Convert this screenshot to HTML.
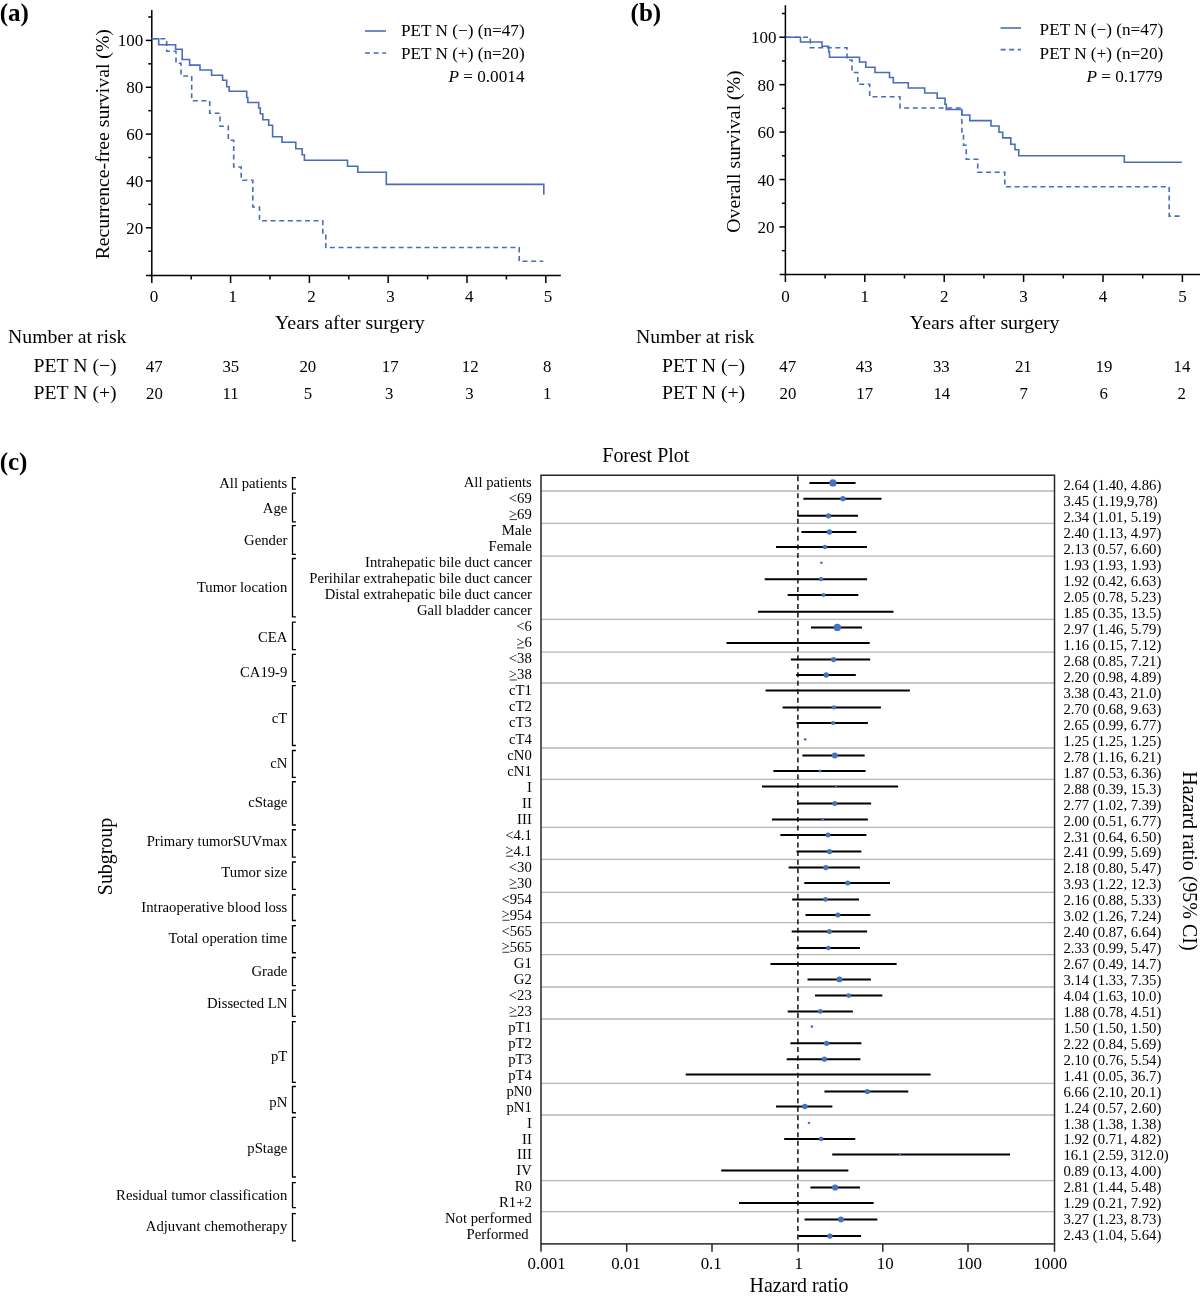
<!DOCTYPE html><html><head><meta charset="utf-8"><style>html,body{margin:0;padding:0;background:#fff;}svg{display:block;will-change:transform;}text{font-family:'Liberation Serif', serif;fill:#000;}</style></head><body>
<svg width="1200" height="1299" viewBox="0 0 1200 1299">
<rect width="1200" height="1299" fill="#fff"/>
<text x="0" y="0" font-size="25" font-weight="bold" transform="translate(-0.3,20.6)">(a)</text>
<text x="0" y="0" font-size="25" font-weight="bold" transform="translate(630.6,20.6)">(b)</text>
<text x="0" y="0" font-size="25" font-weight="bold" transform="translate(-0.3,469.6)">(c)</text>
<line x1="151.80" y1="10.00" x2="151.80" y2="276.25" stroke="#000" stroke-width="1.5"/>
<line x1="146.00" y1="275.50" x2="560.80" y2="275.50" stroke="#000" stroke-width="1.5"/>
<line x1="148.30" y1="251.22" x2="151.80" y2="251.22" stroke="#000" stroke-width="1.5"/>
<line x1="145.80" y1="227.80" x2="151.80" y2="227.80" stroke="#000" stroke-width="1.5"/>
<text x="143.20" y="233.80" font-size="17" text-anchor="end">20</text>
<line x1="148.30" y1="204.38" x2="151.80" y2="204.38" stroke="#000" stroke-width="1.5"/>
<line x1="145.80" y1="180.95" x2="151.80" y2="180.95" stroke="#000" stroke-width="1.5"/>
<text x="143.20" y="186.95" font-size="17" text-anchor="end">40</text>
<line x1="148.30" y1="157.52" x2="151.80" y2="157.52" stroke="#000" stroke-width="1.5"/>
<line x1="145.80" y1="134.10" x2="151.80" y2="134.10" stroke="#000" stroke-width="1.5"/>
<text x="143.20" y="140.10" font-size="17" text-anchor="end">60</text>
<line x1="148.30" y1="110.67" x2="151.80" y2="110.67" stroke="#000" stroke-width="1.5"/>
<line x1="145.80" y1="87.25" x2="151.80" y2="87.25" stroke="#000" stroke-width="1.5"/>
<text x="143.20" y="93.25" font-size="17" text-anchor="end">80</text>
<line x1="148.30" y1="63.82" x2="151.80" y2="63.82" stroke="#000" stroke-width="1.5"/>
<line x1="145.80" y1="40.40" x2="151.80" y2="40.40" stroke="#000" stroke-width="1.5"/>
<text x="143.20" y="46.40" font-size="17" text-anchor="end">100</text>
<line x1="148.30" y1="16.98" x2="151.80" y2="16.98" stroke="#000" stroke-width="1.5"/>
<line x1="151.80" y1="275.50" x2="151.80" y2="283.00" stroke="#000" stroke-width="1.5"/>
<text x="154.00" y="301.80" font-size="17" text-anchor="middle">0</text>
<line x1="191.20" y1="275.50" x2="191.20" y2="279.50" stroke="#000" stroke-width="1.5"/>
<line x1="230.60" y1="275.50" x2="230.60" y2="283.00" stroke="#000" stroke-width="1.5"/>
<text x="232.80" y="301.80" font-size="17" text-anchor="middle">1</text>
<line x1="270.00" y1="275.50" x2="270.00" y2="279.50" stroke="#000" stroke-width="1.5"/>
<line x1="309.40" y1="275.50" x2="309.40" y2="283.00" stroke="#000" stroke-width="1.5"/>
<text x="311.60" y="301.80" font-size="17" text-anchor="middle">2</text>
<line x1="348.80" y1="275.50" x2="348.80" y2="279.50" stroke="#000" stroke-width="1.5"/>
<line x1="388.20" y1="275.50" x2="388.20" y2="283.00" stroke="#000" stroke-width="1.5"/>
<text x="390.40" y="301.80" font-size="17" text-anchor="middle">3</text>
<line x1="427.60" y1="275.50" x2="427.60" y2="279.50" stroke="#000" stroke-width="1.5"/>
<line x1="467.00" y1="275.50" x2="467.00" y2="283.00" stroke="#000" stroke-width="1.5"/>
<text x="469.20" y="301.80" font-size="17" text-anchor="middle">4</text>
<line x1="506.40" y1="275.50" x2="506.40" y2="279.50" stroke="#000" stroke-width="1.5"/>
<line x1="545.80" y1="275.50" x2="545.80" y2="283.00" stroke="#000" stroke-width="1.5"/>
<text x="548.00" y="301.80" font-size="17" text-anchor="middle">5</text>
<path d="M151.7,38.7 H158.7 V44.7 H175.6 V49.2 H182.2 V59.5 H189.6 V65.1 H200 V70 H211.6 V75.3 H222.6 V80.3 H226.7 V86.7 H229.2 V91.3 H246.7 V97.5 H247.8 V102.5 H258.7 V108 H260.3 V113.8 H262.8 V119.7 H268.7 V125.3 H272.6 V136.7 H282 V142.3 H295.8 V148.7 H302.1 V154.7 H304.4 V160.3 H347.5 V166.3 H357.8 V172.2 H386.3 V184.4 H543.8 V194.7 H543.8" fill="none" stroke="#4a6cbc" stroke-width="1.6"/>
<path d="M151.7,38.7 H166.7 V51.3 H176 V63.3 H181 V76 H191.7 V100.8 H209.7 V113.3 H220 V126.3 H228.3 V140.3 H233.7 V167 H241.2 V180.3 H252.8 V207 H259.5 V220.8 H322.8 V234.2 H325.8 V247.5 H519.2 V261.3 H543.3" fill="none" stroke="#4a6cbc" stroke-width="1.6" stroke-dasharray="5 3.6"/>
<text x="0" y="0" font-size="19.75" text-anchor="middle" transform="translate(109.4,144.2) rotate(-90)">Recurrence-free survival (%)</text>
<text x="349.85" y="329.00" font-size="19.85" text-anchor="middle">Years after surgery</text>
<line x1="365.00" y1="31.00" x2="386.00" y2="31.00" stroke="#4a6cbc" stroke-width="1.6"/>
<line x1="365.00" y1="53.00" x2="386.00" y2="53.00" stroke="#4a6cbc" stroke-width="1.6" stroke-dasharray="5 3.6"/>
<text x="401.00" y="35.80" font-size="17.2" text-anchor="start">PET N (−) (n=47)</text>
<text x="401.00" y="59.00" font-size="17.2" text-anchor="start">PET N (+) (n=20)</text>
<text x="524.5" y="81.6" font-size="17.2" text-anchor="end"><tspan font-style="italic">P</tspan> = 0.0014</text>
<text x="8.00" y="343.00" font-size="19.75" text-anchor="start">Number at risk</text>
<text x="33.50" y="372.00" font-size="19.75" text-anchor="start">PET N (−)</text>
<text x="33.50" y="399.00" font-size="19.75" text-anchor="start">PET N (+)</text>
<text x="154.20" y="372.00" font-size="16.8" text-anchor="middle">47</text>
<text x="154.50" y="399.00" font-size="16.8" text-anchor="middle">20</text>
<text x="230.80" y="372.00" font-size="16.8" text-anchor="middle">35</text>
<text x="230.60" y="399.00" font-size="16.8" text-anchor="middle">11</text>
<text x="307.80" y="372.00" font-size="16.8" text-anchor="middle">20</text>
<text x="308.00" y="399.00" font-size="16.8" text-anchor="middle">5</text>
<text x="390.20" y="372.00" font-size="16.8" text-anchor="middle">17</text>
<text x="389.30" y="399.00" font-size="16.8" text-anchor="middle">3</text>
<text x="470.20" y="372.00" font-size="16.8" text-anchor="middle">12</text>
<text x="469.50" y="399.00" font-size="16.8" text-anchor="middle">3</text>
<text x="547.30" y="372.00" font-size="16.8" text-anchor="middle">8</text>
<text x="547.20" y="399.00" font-size="16.8" text-anchor="middle">1</text>
<line x1="785.40" y1="5.20" x2="785.40" y2="275.25" stroke="#000" stroke-width="1.5"/>
<line x1="779.70" y1="274.50" x2="1200.00" y2="274.50" stroke="#000" stroke-width="1.5"/>
<line x1="781.90" y1="250.66" x2="785.40" y2="250.66" stroke="#000" stroke-width="1.5"/>
<line x1="779.40" y1="226.94" x2="785.40" y2="226.94" stroke="#000" stroke-width="1.5"/>
<text x="774.60" y="232.94" font-size="17" text-anchor="end">20</text>
<line x1="781.90" y1="203.22" x2="785.40" y2="203.22" stroke="#000" stroke-width="1.5"/>
<line x1="779.40" y1="179.51" x2="785.40" y2="179.51" stroke="#000" stroke-width="1.5"/>
<text x="774.60" y="185.51" font-size="17" text-anchor="end">40</text>
<line x1="781.90" y1="155.80" x2="785.40" y2="155.80" stroke="#000" stroke-width="1.5"/>
<line x1="779.40" y1="132.08" x2="785.40" y2="132.08" stroke="#000" stroke-width="1.5"/>
<text x="774.60" y="138.08" font-size="17" text-anchor="end">60</text>
<line x1="781.90" y1="108.36" x2="785.40" y2="108.36" stroke="#000" stroke-width="1.5"/>
<line x1="779.40" y1="84.65" x2="785.40" y2="84.65" stroke="#000" stroke-width="1.5"/>
<text x="774.60" y="90.65" font-size="17" text-anchor="end">80</text>
<line x1="781.90" y1="60.94" x2="785.40" y2="60.94" stroke="#000" stroke-width="1.5"/>
<line x1="779.40" y1="37.22" x2="785.40" y2="37.22" stroke="#000" stroke-width="1.5"/>
<text x="776.60" y="43.22" font-size="17" text-anchor="end">100</text>
<line x1="781.90" y1="13.50" x2="785.40" y2="13.50" stroke="#000" stroke-width="1.5"/>
<line x1="785.40" y1="274.50" x2="785.40" y2="282.00" stroke="#000" stroke-width="1.5"/>
<text x="785.40" y="301.80" font-size="17" text-anchor="middle">0</text>
<line x1="825.10" y1="274.50" x2="825.10" y2="278.50" stroke="#000" stroke-width="1.5"/>
<line x1="864.80" y1="274.50" x2="864.80" y2="282.00" stroke="#000" stroke-width="1.5"/>
<text x="864.80" y="301.80" font-size="17" text-anchor="middle">1</text>
<line x1="904.50" y1="274.50" x2="904.50" y2="278.50" stroke="#000" stroke-width="1.5"/>
<line x1="944.20" y1="274.50" x2="944.20" y2="282.00" stroke="#000" stroke-width="1.5"/>
<text x="944.20" y="301.80" font-size="17" text-anchor="middle">2</text>
<line x1="983.90" y1="274.50" x2="983.90" y2="278.50" stroke="#000" stroke-width="1.5"/>
<line x1="1023.60" y1="274.50" x2="1023.60" y2="282.00" stroke="#000" stroke-width="1.5"/>
<text x="1023.60" y="301.80" font-size="17" text-anchor="middle">3</text>
<line x1="1063.30" y1="274.50" x2="1063.30" y2="278.50" stroke="#000" stroke-width="1.5"/>
<line x1="1103.00" y1="274.50" x2="1103.00" y2="282.00" stroke="#000" stroke-width="1.5"/>
<text x="1103.00" y="301.80" font-size="17" text-anchor="middle">4</text>
<line x1="1142.70" y1="274.50" x2="1142.70" y2="278.50" stroke="#000" stroke-width="1.5"/>
<line x1="1182.40" y1="274.50" x2="1182.40" y2="282.00" stroke="#000" stroke-width="1.5"/>
<text x="1182.40" y="301.80" font-size="17" text-anchor="middle">5</text>
<path d="M785.8,37.2 H800.5 V42 H822 V46.3 H828.7 V51.7 H829.5 V57.2 H859.5 V62 H865.8 V67.2 H875 V72.5 H889.5 V77.5 H893.3 V82.8 H908.3 V88 H924.7 V93 H937.2 V98.3 H945 V104.2 H946.3 V109.5 H961.9 V115 H969.8 V120.6 H991 V126 H999 V132.3 H1002.7 V137.9 H1010.8 V144.2 H1015 V149.8 H1018.75 V155.8 H1124.3 V162.3 H1181.9" fill="none" stroke="#4a6cbc" stroke-width="1.6"/>
<path d="M785.8,37.2 H810.3 V47.8 H847 V60 H852 V72.5 H857.8 V84.2 H869.7 V96.7 H900 V108 H961.9 V132.7 H963.5 V145.2 H966.25 V159.2 H977.7 V172.3 H1004.8 V186.8 H1169.2 V216.1 H1181.7" fill="none" stroke="#4a6cbc" stroke-width="1.6" stroke-dasharray="5 3.6"/>
<text x="0" y="0" font-size="19.75" text-anchor="middle" transform="translate(740.4,151.5) rotate(-90)">Overall survival (%)</text>
<text x="984.70" y="328.80" font-size="19.85" text-anchor="middle">Years after surgery</text>
<line x1="1000.60" y1="28.00" x2="1021.00" y2="28.00" stroke="#4a6cbc" stroke-width="1.6"/>
<line x1="1000.60" y1="49.60" x2="1021.00" y2="49.60" stroke="#4a6cbc" stroke-width="1.6" stroke-dasharray="5 3.6"/>
<text x="1039.60" y="35.20" font-size="17.2" text-anchor="start">PET N (−) (n=47)</text>
<text x="1039.60" y="58.80" font-size="17.2" text-anchor="start">PET N (+) (n=20)</text>
<text x="1162.5" y="81.6" font-size="17.2" text-anchor="end"><tspan font-style="italic">P</tspan> = 0.1779</text>
<text x="636.00" y="342.70" font-size="19.75" text-anchor="start">Number at risk</text>
<text x="662.00" y="372.00" font-size="19.75" text-anchor="start">PET N (−)</text>
<text x="662.00" y="399.20" font-size="19.75" text-anchor="start">PET N (+)</text>
<text x="787.70" y="372.00" font-size="16.8" text-anchor="middle">47</text>
<text x="787.90" y="399.20" font-size="16.8" text-anchor="middle">20</text>
<text x="864.20" y="372.00" font-size="16.8" text-anchor="middle">43</text>
<text x="864.70" y="399.20" font-size="16.8" text-anchor="middle">17</text>
<text x="941.30" y="372.00" font-size="16.8" text-anchor="middle">33</text>
<text x="941.80" y="399.20" font-size="16.8" text-anchor="middle">14</text>
<text x="1023.30" y="372.00" font-size="16.8" text-anchor="middle">21</text>
<text x="1023.60" y="399.20" font-size="16.8" text-anchor="middle">7</text>
<text x="1104.00" y="372.00" font-size="16.8" text-anchor="middle">19</text>
<text x="1103.70" y="399.20" font-size="16.8" text-anchor="middle">6</text>
<text x="1182.00" y="372.00" font-size="16.8" text-anchor="middle">14</text>
<text x="1181.80" y="399.20" font-size="16.8" text-anchor="middle">2</text>
<line x1="541.00" y1="491.00" x2="1054.50" y2="491.00" stroke="#b6b6b6" stroke-width="1.3"/>
<line x1="541.00" y1="523.40" x2="1054.50" y2="523.40" stroke="#b6b6b6" stroke-width="1.3"/>
<line x1="541.00" y1="556.20" x2="1054.50" y2="556.20" stroke="#b6b6b6" stroke-width="1.3"/>
<line x1="541.00" y1="619.40" x2="1054.50" y2="619.40" stroke="#b6b6b6" stroke-width="1.3"/>
<line x1="541.00" y1="652.20" x2="1054.50" y2="652.20" stroke="#b6b6b6" stroke-width="1.3"/>
<line x1="541.00" y1="683.00" x2="1054.50" y2="683.00" stroke="#b6b6b6" stroke-width="1.3"/>
<line x1="541.00" y1="748.00" x2="1054.50" y2="748.00" stroke="#b6b6b6" stroke-width="1.3"/>
<line x1="541.00" y1="779.40" x2="1054.50" y2="779.40" stroke="#b6b6b6" stroke-width="1.3"/>
<line x1="541.00" y1="827.40" x2="1054.50" y2="827.40" stroke="#b6b6b6" stroke-width="1.3"/>
<line x1="541.00" y1="859.40" x2="1054.50" y2="859.40" stroke="#b6b6b6" stroke-width="1.3"/>
<line x1="541.00" y1="892.40" x2="1054.50" y2="892.40" stroke="#b6b6b6" stroke-width="1.3"/>
<line x1="541.00" y1="922.60" x2="1054.50" y2="922.60" stroke="#b6b6b6" stroke-width="1.3"/>
<line x1="541.00" y1="954.60" x2="1054.50" y2="954.60" stroke="#b6b6b6" stroke-width="1.3"/>
<line x1="541.00" y1="987.00" x2="1054.50" y2="987.00" stroke="#b6b6b6" stroke-width="1.3"/>
<line x1="541.00" y1="1019.00" x2="1054.50" y2="1019.00" stroke="#b6b6b6" stroke-width="1.3"/>
<line x1="541.00" y1="1083.30" x2="1054.50" y2="1083.30" stroke="#b6b6b6" stroke-width="1.3"/>
<line x1="541.00" y1="1115.00" x2="1054.50" y2="1115.00" stroke="#b6b6b6" stroke-width="1.3"/>
<line x1="541.00" y1="1180.65" x2="1054.50" y2="1180.65" stroke="#b6b6b6" stroke-width="1.3"/>
<line x1="541.00" y1="1211.70" x2="1054.50" y2="1211.70" stroke="#b6b6b6" stroke-width="1.3"/>
<line x1="797.90" y1="475.25" x2="797.90" y2="1243.90" stroke="#111" stroke-width="1.5" stroke-dasharray="5 3.52" stroke-dashoffset="7.54"/>
<rect x="541.0" y="475.25" width="513.5" height="768.6500000000001" fill="none" stroke="#262626" stroke-width="1.5"/>
<text x="0" y="0" font-size="14.7" text-anchor="end" transform="translate(531.80,486.90) scale(1,1.06)">All patients</text>
<text x="0" y="0" font-size="14.7" text-anchor="start" transform="translate(1063.50,489.70) scale(1,1.06)">2.64 (1.40, 4.86)</text>
<line x1="809.39" y1="482.90" x2="855.57" y2="482.90" stroke="#000" stroke-width="2"/>
<circle cx="832.9" cy="482.9" r="3.6" fill="#4472c4"/>
<text x="0" y="0" font-size="14.7" text-anchor="end" transform="translate(531.80,502.94) scale(1,1.06)">&lt;69</text>
<text x="0" y="0" font-size="14.7" text-anchor="start" transform="translate(1063.50,505.70) scale(1,1.06)">3.45 (1.19,9,78)</text>
<line x1="803.36" y1="498.70" x2="881.52" y2="498.70" stroke="#000" stroke-width="2"/>
<circle cx="842.9" cy="498.7" r="2.6" fill="#4472c4"/>
<text x="0" y="0" font-size="14.7" text-anchor="end" transform="translate(531.80,518.99) scale(1,1.06)"><tspan dy="-0.3">&gt;</tspan><tspan dy="0.3">69</tspan></text>
<line x1="509.71" y1="519.59" x2="516.91" y2="519.59" stroke="#333" stroke-width="1.0"/>
<text x="0" y="0" font-size="14.7" text-anchor="start" transform="translate(1063.50,521.71) scale(1,1.06)">2.34 (1.01, 5.19)</text>
<line x1="797.27" y1="515.80" x2="858.01" y2="515.80" stroke="#000" stroke-width="2"/>
<circle cx="828.4" cy="515.8" r="2.6" fill="#4472c4"/>
<text x="0" y="0" font-size="14.7" text-anchor="end" transform="translate(531.80,535.03) scale(1,1.06)">Male</text>
<text x="0" y="0" font-size="14.7" text-anchor="start" transform="translate(1063.50,537.71) scale(1,1.06)">2.40 (1.13, 4.97)</text>
<line x1="801.44" y1="532.00" x2="856.40" y2="532.00" stroke="#000" stroke-width="2"/>
<circle cx="829.4" cy="532" r="2.7" fill="#4472c4"/>
<text x="0" y="0" font-size="14.7" text-anchor="end" transform="translate(531.80,551.07) scale(1,1.06)">Female</text>
<text x="0" y="0" font-size="14.7" text-anchor="start" transform="translate(1063.50,553.71) scale(1,1.06)">2.13 (0.57, 6.60)</text>
<line x1="776.04" y1="547.00" x2="866.93" y2="547.00" stroke="#000" stroke-width="2"/>
<circle cx="825.0" cy="547" r="2.2" fill="#4472c4"/>
<text x="0" y="0" font-size="14.7" text-anchor="end" transform="translate(531.80,567.11) scale(1,1.06)">Intrahepatic bile duct cancer</text>
<text x="0" y="0" font-size="14.7" text-anchor="start" transform="translate(1063.50,569.72) scale(1,1.06)">1.93 (1.93, 1.93)</text>
<circle cx="821.3" cy="562.7" r="1.3" fill="#4472c4"/>
<text x="0" y="0" font-size="14.7" text-anchor="end" transform="translate(531.80,583.16) scale(1,1.06)">Perihilar extrahepatic bile duct cancer</text>
<text x="0" y="0" font-size="14.7" text-anchor="start" transform="translate(1063.50,585.72) scale(1,1.06)">1.92 (0.42, 6.63)</text>
<line x1="764.71" y1="579.20" x2="867.10" y2="579.20" stroke="#000" stroke-width="2"/>
<circle cx="821.1" cy="579.2" r="2.1" fill="#4472c4"/>
<text x="0" y="0" font-size="14.7" text-anchor="end" transform="translate(531.80,599.20) scale(1,1.06)">Distal extrahepatic bile duct cancer</text>
<text x="0" y="0" font-size="14.7" text-anchor="start" transform="translate(1063.50,601.72) scale(1,1.06)">2.05 (0.78, 5.23)</text>
<line x1="787.68" y1="595.00" x2="858.30" y2="595.00" stroke="#000" stroke-width="2"/>
<circle cx="823.5" cy="595" r="2.1" fill="#4472c4"/>
<text x="0" y="0" font-size="14.7" text-anchor="end" transform="translate(531.80,615.23) scale(1,1.06)">Gall bladder cancer</text>
<text x="0" y="0" font-size="14.7" text-anchor="start" transform="translate(1063.50,617.72) scale(1,1.06)">1.85 (0.35, 13.5)</text>
<line x1="757.94" y1="611.80" x2="893.49" y2="611.80" stroke="#000" stroke-width="2"/>
<text x="0" y="0" font-size="14.7" text-anchor="end" transform="translate(531.80,631.27) scale(1,1.06)">&lt;6</text>
<text x="0" y="0" font-size="14.7" text-anchor="start" transform="translate(1063.50,633.72) scale(1,1.06)">2.97 (1.46, 5.79)</text>
<line x1="810.94" y1="627.40" x2="862.07" y2="627.40" stroke="#000" stroke-width="2"/>
<circle cx="837.3" cy="627.4" r="3.7" fill="#4472c4"/>
<text x="0" y="0" font-size="14.7" text-anchor="end" transform="translate(531.80,647.31) scale(1,1.06)"><tspan dy="-0.3">&gt;</tspan><tspan dy="0.3">6</tspan></text>
<line x1="517.06" y1="647.91" x2="524.26" y2="647.91" stroke="#333" stroke-width="1.0"/>
<text x="0" y="0" font-size="14.7" text-anchor="start" transform="translate(1063.50,649.71) scale(1,1.06)">1.16 (0.15, 7.12)</text>
<line x1="726.50" y1="643.00" x2="869.74" y2="643.00" stroke="#000" stroke-width="2"/>
<text x="0" y="0" font-size="14.7" text-anchor="end" transform="translate(531.80,663.35) scale(1,1.06)">&lt;38</text>
<text x="0" y="0" font-size="14.7" text-anchor="start" transform="translate(1063.50,665.71) scale(1,1.06)">2.68 (0.85, 7.21)</text>
<line x1="790.87" y1="659.60" x2="870.21" y2="659.60" stroke="#000" stroke-width="2"/>
<circle cx="833.5" cy="659.6" r="2.6" fill="#4472c4"/>
<text x="0" y="0" font-size="14.7" text-anchor="end" transform="translate(531.80,679.38) scale(1,1.06)"><tspan dy="-0.3">&gt;</tspan><tspan dy="0.3">38</tspan></text>
<line x1="509.71" y1="679.98" x2="516.91" y2="679.98" stroke="#333" stroke-width="1.0"/>
<text x="0" y="0" font-size="14.7" text-anchor="start" transform="translate(1063.50,681.70) scale(1,1.06)">2.20 (0.98, 4.89)</text>
<line x1="796.15" y1="675.00" x2="855.80" y2="675.00" stroke="#000" stroke-width="2"/>
<circle cx="826.2" cy="675" r="2.7" fill="#4472c4"/>
<text x="0" y="0" font-size="14.7" text-anchor="end" transform="translate(531.80,695.41) scale(1,1.06)">cT1</text>
<text x="0" y="0" font-size="14.7" text-anchor="start" transform="translate(1063.50,697.69) scale(1,1.06)">3.38 (0.43, 21.0)</text>
<line x1="765.58" y1="690.60" x2="909.88" y2="690.60" stroke="#000" stroke-width="2"/>
<text x="0" y="0" font-size="14.7" text-anchor="end" transform="translate(531.80,711.44) scale(1,1.06)">cT2</text>
<text x="0" y="0" font-size="14.7" text-anchor="start" transform="translate(1063.50,713.68) scale(1,1.06)">2.70 (0.68, 9.63)</text>
<line x1="782.59" y1="707.40" x2="880.95" y2="707.40" stroke="#000" stroke-width="2"/>
<circle cx="833.8" cy="707.4" r="2.1" fill="#4472c4"/>
<text x="0" y="0" font-size="14.7" text-anchor="end" transform="translate(531.80,727.47) scale(1,1.06)">cT3</text>
<text x="0" y="0" font-size="14.7" text-anchor="start" transform="translate(1063.50,729.67) scale(1,1.06)">2.65 (0.99, 6.77)</text>
<line x1="796.53" y1="723.00" x2="867.87" y2="723.00" stroke="#000" stroke-width="2"/>
<circle cx="833.1" cy="723" r="2.1" fill="#4472c4"/>
<text x="0" y="0" font-size="14.7" text-anchor="end" transform="translate(531.80,743.50) scale(1,1.06)">cT4</text>
<text x="0" y="0" font-size="14.7" text-anchor="start" transform="translate(1063.50,745.65) scale(1,1.06)">1.25 (1.25, 1.25)</text>
<circle cx="805.2" cy="739.4" r="1.3" fill="#4472c4"/>
<text x="0" y="0" font-size="14.7" text-anchor="end" transform="translate(531.80,759.52) scale(1,1.06)">cN0</text>
<text x="0" y="0" font-size="14.7" text-anchor="start" transform="translate(1063.50,761.63) scale(1,1.06)">2.78 (1.16, 6.21)</text>
<line x1="802.41" y1="755.40" x2="864.67" y2="755.40" stroke="#000" stroke-width="2"/>
<circle cx="834.8" cy="755.4" r="3.0" fill="#4472c4"/>
<text x="0" y="0" font-size="14.7" text-anchor="end" transform="translate(531.80,775.55) scale(1,1.06)">cN1</text>
<text x="0" y="0" font-size="14.7" text-anchor="start" transform="translate(1063.50,777.61) scale(1,1.06)">1.87 (0.53, 6.36)</text>
<line x1="773.34" y1="771.00" x2="865.56" y2="771.00" stroke="#000" stroke-width="2"/>
<circle cx="820.1" cy="771" r="1.5999999999999999" fill="#4472c4"/>
<text x="0" y="0" font-size="14.7" text-anchor="end" transform="translate(531.80,791.57) scale(1,1.06)">I</text>
<text x="0" y="0" font-size="14.7" text-anchor="start" transform="translate(1063.50,793.59) scale(1,1.06)">2.88 (0.39, 15.3)</text>
<line x1="761.96" y1="786.60" x2="898.13" y2="786.60" stroke="#000" stroke-width="2"/>
<circle cx="836.2" cy="786.6" r="1.2" fill="#4472c4"/>
<text x="0" y="0" font-size="14.7" text-anchor="end" transform="translate(531.80,807.59) scale(1,1.06)">II</text>
<text x="0" y="0" font-size="14.7" text-anchor="start" transform="translate(1063.50,809.56) scale(1,1.06)">2.77 (1.02, 7.39)</text>
<line x1="797.63" y1="803.60" x2="871.13" y2="803.60" stroke="#000" stroke-width="2"/>
<circle cx="834.7" cy="803.6" r="2.5" fill="#4472c4"/>
<text x="0" y="0" font-size="14.7" text-anchor="end" transform="translate(531.80,823.60) scale(1,1.06)">III</text>
<text x="0" y="0" font-size="14.7" text-anchor="start" transform="translate(1063.50,825.54) scale(1,1.06)">2.00 (0.51, 6.77)</text>
<line x1="771.91" y1="819.40" x2="867.87" y2="819.40" stroke="#000" stroke-width="2"/>
<circle cx="822.6" cy="819.4" r="1.4" fill="#4472c4"/>
<text x="0" y="0" font-size="14.7" text-anchor="end" transform="translate(531.80,839.62) scale(1,1.06)">&lt;4.1</text>
<text x="0" y="0" font-size="14.7" text-anchor="start" transform="translate(1063.50,841.50) scale(1,1.06)">2.31 (0.64, 6.50)</text>
<line x1="780.34" y1="835.00" x2="866.36" y2="835.00" stroke="#000" stroke-width="2"/>
<circle cx="828.0" cy="835" r="2.5" fill="#4472c4"/>
<text x="0" y="0" font-size="14.7" text-anchor="end" transform="translate(531.80,855.63) scale(1,1.06)"><tspan dy="-0.3">&gt;</tspan><tspan dy="0.3">4.1</tspan></text>
<line x1="506.03" y1="856.23" x2="513.23" y2="856.23" stroke="#333" stroke-width="1.0"/>
<text x="0" y="0" font-size="14.7" text-anchor="start" transform="translate(1063.50,857.47) scale(1,1.06)">2.41 (0.99, 5.69)</text>
<line x1="796.53" y1="851.60" x2="861.42" y2="851.60" stroke="#000" stroke-width="2"/>
<circle cx="829.5" cy="851.6" r="2.7" fill="#4472c4"/>
<text x="0" y="0" font-size="14.7" text-anchor="end" transform="translate(531.80,871.64) scale(1,1.06)">&lt;30</text>
<text x="0" y="0" font-size="14.7" text-anchor="start" transform="translate(1063.50,873.44) scale(1,1.06)">2.18 (0.80, 5.47)</text>
<line x1="788.62" y1="867.60" x2="859.96" y2="867.60" stroke="#000" stroke-width="2"/>
<circle cx="825.8" cy="867.6" r="2.6" fill="#4472c4"/>
<text x="0" y="0" font-size="14.7" text-anchor="end" transform="translate(531.80,887.65) scale(1,1.06)"><tspan dy="-0.3">&gt;</tspan><tspan dy="0.3">30</tspan></text>
<line x1="509.71" y1="888.25" x2="516.91" y2="888.25" stroke="#333" stroke-width="1.0"/>
<text x="0" y="0" font-size="14.7" text-anchor="start" transform="translate(1063.50,889.40) scale(1,1.06)">3.93 (1.22, 12.3)</text>
<line x1="804.28" y1="883.00" x2="890.03" y2="883.00" stroke="#000" stroke-width="2"/>
<circle cx="847.7" cy="883" r="2.5" fill="#4472c4"/>
<text x="0" y="0" font-size="14.7" text-anchor="end" transform="translate(531.80,903.65) scale(1,1.06)">&lt;954</text>
<text x="0" y="0" font-size="14.7" text-anchor="start" transform="translate(1063.50,905.36) scale(1,1.06)">2.16 (0.88, 5.33)</text>
<line x1="792.16" y1="899.40" x2="859.00" y2="899.40" stroke="#000" stroke-width="2"/>
<circle cx="825.5" cy="899.4" r="2.3000000000000003" fill="#4472c4"/>
<text x="0" y="0" font-size="14.7" text-anchor="end" transform="translate(531.80,919.66) scale(1,1.06)"><tspan dy="-0.3">&gt;</tspan><tspan dy="0.3">954</tspan></text>
<line x1="502.36" y1="920.26" x2="509.56" y2="920.26" stroke="#333" stroke-width="1.0"/>
<text x="0" y="0" font-size="14.7" text-anchor="start" transform="translate(1063.50,921.31) scale(1,1.06)">3.02 (1.26, 7.24)</text>
<line x1="805.48" y1="915.00" x2="870.36" y2="915.00" stroke="#000" stroke-width="2"/>
<circle cx="837.9" cy="915" r="2.5" fill="#4472c4"/>
<text x="0" y="0" font-size="14.7" text-anchor="end" transform="translate(531.80,935.66) scale(1,1.06)">&lt;565</text>
<text x="0" y="0" font-size="14.7" text-anchor="start" transform="translate(1063.50,937.27) scale(1,1.06)">2.40 (0.87, 6.64)</text>
<line x1="791.73" y1="931.40" x2="867.15" y2="931.40" stroke="#000" stroke-width="2"/>
<circle cx="829.4" cy="931.4" r="2.5" fill="#4472c4"/>
<text x="0" y="0" font-size="14.7" text-anchor="end" transform="translate(531.80,951.66) scale(1,1.06)"><tspan dy="-0.3">&gt;</tspan><tspan dy="0.3">565</tspan></text>
<line x1="502.36" y1="952.26" x2="509.56" y2="952.26" stroke="#333" stroke-width="1.0"/>
<text x="0" y="0" font-size="14.7" text-anchor="start" transform="translate(1063.50,953.22) scale(1,1.06)">2.33 (0.99, 5.47)</text>
<line x1="796.53" y1="948.00" x2="859.96" y2="948.00" stroke="#000" stroke-width="2"/>
<circle cx="828.3" cy="948" r="2.3000000000000003" fill="#4472c4"/>
<text x="0" y="0" font-size="14.7" text-anchor="end" transform="translate(531.80,967.65) scale(1,1.06)">G1</text>
<text x="0" y="0" font-size="14.7" text-anchor="start" transform="translate(1063.50,969.16) scale(1,1.06)">2.67 (0.49, 14.7)</text>
<line x1="770.43" y1="964.00" x2="896.65" y2="964.00" stroke="#000" stroke-width="2"/>
<text x="0" y="0" font-size="14.7" text-anchor="end" transform="translate(531.80,983.65) scale(1,1.06)">G2</text>
<text x="0" y="0" font-size="14.7" text-anchor="start" transform="translate(1063.50,985.11) scale(1,1.06)">3.14 (1.33, 7.35)</text>
<line x1="807.48" y1="979.40" x2="870.92" y2="979.40" stroke="#000" stroke-width="2"/>
<circle cx="839.4" cy="979.4" r="2.9000000000000004" fill="#4472c4"/>
<text x="0" y="0" font-size="14.7" text-anchor="end" transform="translate(531.80,999.64) scale(1,1.06)">&lt;23</text>
<text x="0" y="0" font-size="14.7" text-anchor="start" transform="translate(1063.50,1001.05) scale(1,1.06)">4.04 (1.63, 10.0)</text>
<line x1="815.03" y1="995.60" x2="882.35" y2="995.60" stroke="#000" stroke-width="2"/>
<circle cx="848.7" cy="995.6" r="2.3000000000000003" fill="#4472c4"/>
<text x="0" y="0" font-size="14.7" text-anchor="end" transform="translate(531.80,1015.63) scale(1,1.06)"><tspan dy="-0.3">&gt;</tspan><tspan dy="0.3">23</tspan></text>
<line x1="509.71" y1="1016.23" x2="516.91" y2="1016.23" stroke="#333" stroke-width="1.0"/>
<text x="0" y="0" font-size="14.7" text-anchor="start" transform="translate(1063.50,1017.00) scale(1,1.06)">1.88 (0.78, 4.51)</text>
<line x1="787.68" y1="1011.40" x2="852.80" y2="1011.40" stroke="#000" stroke-width="2"/>
<circle cx="820.3" cy="1011.4" r="2.4000000000000004" fill="#4472c4"/>
<text x="0" y="0" font-size="14.7" text-anchor="end" transform="translate(531.80,1031.62) scale(1,1.06)">pT1</text>
<text x="0" y="0" font-size="14.7" text-anchor="start" transform="translate(1063.50,1032.93) scale(1,1.06)">1.50 (1.50, 1.50)</text>
<circle cx="811.9" cy="1026.6" r="1.3" fill="#4472c4"/>
<text x="0" y="0" font-size="14.7" text-anchor="end" transform="translate(531.80,1047.61) scale(1,1.06)">pT2</text>
<text x="0" y="0" font-size="14.7" text-anchor="start" transform="translate(1063.50,1048.87) scale(1,1.06)">2.22 (0.84, 5.69)</text>
<line x1="790.43" y1="1043.30" x2="861.42" y2="1043.30" stroke="#000" stroke-width="2"/>
<circle cx="826.5" cy="1043.3" r="2.6" fill="#4472c4"/>
<text x="0" y="0" font-size="14.7" text-anchor="end" transform="translate(531.80,1063.60) scale(1,1.06)">pT3</text>
<text x="0" y="0" font-size="14.7" text-anchor="start" transform="translate(1063.50,1064.81) scale(1,1.06)">2.10 (0.76, 5.54)</text>
<line x1="786.72" y1="1059.20" x2="860.43" y2="1059.20" stroke="#000" stroke-width="2"/>
<circle cx="824.4" cy="1059.2" r="2.6" fill="#4472c4"/>
<text x="0" y="0" font-size="14.7" text-anchor="end" transform="translate(531.80,1079.58) scale(1,1.06)">pT4</text>
<text x="0" y="0" font-size="14.7" text-anchor="start" transform="translate(1063.50,1080.74) scale(1,1.06)">1.41 (0.05, 36.7)</text>
<line x1="685.73" y1="1074.50" x2="930.60" y2="1074.50" stroke="#000" stroke-width="2"/>
<text x="0" y="0" font-size="14.7" text-anchor="end" transform="translate(531.80,1095.56) scale(1,1.06)">pN0</text>
<text x="0" y="0" font-size="14.7" text-anchor="start" transform="translate(1063.50,1096.67) scale(1,1.06)">6.66 (2.10, 20.1)</text>
<line x1="824.43" y1="1091.50" x2="908.26" y2="1091.50" stroke="#000" stroke-width="2"/>
<circle cx="867.3" cy="1091.5" r="2.6" fill="#4472c4"/>
<text x="0" y="0" font-size="14.7" text-anchor="end" transform="translate(531.80,1111.54) scale(1,1.06)">pN1</text>
<text x="0" y="0" font-size="14.7" text-anchor="start" transform="translate(1063.50,1112.60) scale(1,1.06)">1.24 (0.57, 2.60)</text>
<line x1="776.04" y1="1106.50" x2="832.36" y2="1106.50" stroke="#000" stroke-width="2"/>
<circle cx="804.9" cy="1106.5" r="2.7" fill="#4472c4"/>
<text x="0" y="0" font-size="14.7" text-anchor="end" transform="translate(531.80,1127.53) scale(1,1.06)">I</text>
<text x="0" y="0" font-size="14.7" text-anchor="start" transform="translate(1063.50,1128.53) scale(1,1.06)">1.38 (1.38, 1.38)</text>
<circle cx="808.9" cy="1122.9" r="1.2" fill="#4472c4"/>
<text x="0" y="0" font-size="14.7" text-anchor="end" transform="translate(531.80,1143.51) scale(1,1.06)">II</text>
<text x="0" y="0" font-size="14.7" text-anchor="start" transform="translate(1063.50,1144.46) scale(1,1.06)">1.92 (0.71, 4.82)</text>
<line x1="784.19" y1="1139.00" x2="855.27" y2="1139.00" stroke="#000" stroke-width="2"/>
<circle cx="821.1" cy="1139" r="2.3000000000000003" fill="#4472c4"/>
<text x="0" y="0" font-size="14.7" text-anchor="end" transform="translate(531.80,1159.48) scale(1,1.06)">III</text>
<text x="0" y="0" font-size="14.7" text-anchor="start" transform="translate(1063.50,1160.38) scale(1,1.06)">16.1 (2.59, 312.0)</text>
<line x1="832.22" y1="1154.60" x2="1010.03" y2="1154.60" stroke="#000" stroke-width="2"/>
<circle cx="900.0" cy="1154.6" r="1.2" fill="#4472c4"/>
<text x="0" y="0" font-size="14.7" text-anchor="end" transform="translate(531.80,1175.46) scale(1,1.06)">IV</text>
<text x="0" y="0" font-size="14.7" text-anchor="start" transform="translate(1063.50,1176.31) scale(1,1.06)">0.89 (0.13, 4.00)</text>
<line x1="721.19" y1="1170.40" x2="848.35" y2="1170.40" stroke="#000" stroke-width="2"/>
<text x="0" y="0" font-size="14.7" text-anchor="end" transform="translate(531.80,1191.44) scale(1,1.06)">R0</text>
<text x="0" y="0" font-size="14.7" text-anchor="start" transform="translate(1063.50,1192.24) scale(1,1.06)">2.81 (1.44, 5.48)</text>
<line x1="810.43" y1="1187.50" x2="860.03" y2="1187.50" stroke="#000" stroke-width="2"/>
<circle cx="835.2" cy="1187.5" r="3.1" fill="#4472c4"/>
<text x="0" y="0" font-size="14.7" text-anchor="end" transform="translate(531.80,1207.42) scale(1,1.06)">R1+2</text>
<text x="0" y="0" font-size="14.7" text-anchor="start" transform="translate(1063.50,1208.16) scale(1,1.06)">1.29 (0.21, 7.92)</text>
<line x1="738.98" y1="1203.00" x2="873.70" y2="1203.00" stroke="#000" stroke-width="2"/>
<text x="0" y="0" font-size="14.7" text-anchor="end" transform="translate(531.80,1223.39) scale(1,1.06)">Not performed</text>
<text x="0" y="0" font-size="14.7" text-anchor="start" transform="translate(1063.50,1224.08) scale(1,1.06)">3.27 (1.23, 8.73)</text>
<line x1="804.58" y1="1219.50" x2="877.31" y2="1219.50" stroke="#000" stroke-width="2"/>
<circle cx="840.9" cy="1219.5" r="2.9000000000000004" fill="#4472c4"/>
<text x="0" y="0" font-size="14.7" text-anchor="end" transform="translate(528.50,1239.37) scale(1,1.06)">Performed</text>
<text x="0" y="0" font-size="14.7" text-anchor="start" transform="translate(1063.50,1240.01) scale(1,1.06)">2.43 (1.04, 5.64)</text>
<line x1="798.36" y1="1236.10" x2="861.10" y2="1236.10" stroke="#000" stroke-width="2"/>
<circle cx="829.9" cy="1236.1" r="2.7" fill="#4472c4"/>
<path d="M295.9,477.6 H292.5 V489.1 H295.9" fill="none" stroke="#000" stroke-width="1.3"/>
<text x="0" y="0" font-size="14.7" text-anchor="end" transform="translate(287.30,488.20) scale(1,1.06)">All patients</text>
<path d="M295.9,493.2 H292.5 V521.8 H295.9" fill="none" stroke="#000" stroke-width="1.3"/>
<text x="0" y="0" font-size="14.7" text-anchor="end" transform="translate(287.30,512.50) scale(1,1.06)">Age</text>
<path d="M295.9,525.7 H292.5 V554.4 H295.9" fill="none" stroke="#000" stroke-width="1.3"/>
<text x="0" y="0" font-size="14.7" text-anchor="end" transform="translate(287.30,544.60) scale(1,1.06)">Gender</text>
<path d="M295.9,558.5 H292.5 V616.9 H295.9" fill="none" stroke="#000" stroke-width="1.3"/>
<text x="0" y="0" font-size="14.7" text-anchor="end" transform="translate(287.30,592.00) scale(1,1.06)">Tumor location</text>
<path d="M295.9,622.2 H292.5 V649.7 H295.9" fill="none" stroke="#000" stroke-width="1.3"/>
<text x="0" y="0" font-size="14.7" text-anchor="end" transform="translate(287.30,641.80) scale(1,1.06)">CEA</text>
<path d="M295.9,654.3 H292.5 V681.7 H295.9" fill="none" stroke="#000" stroke-width="1.3"/>
<text x="0" y="0" font-size="14.7" text-anchor="end" transform="translate(287.30,676.70) scale(1,1.06)">CA19-9</text>
<path d="M295.9,685.7 H292.5 V745.5 H295.9" fill="none" stroke="#000" stroke-width="1.3"/>
<text x="0" y="0" font-size="14.7" text-anchor="end" transform="translate(287.30,722.70) scale(1,1.06)">cT</text>
<path d="M295.9,750.5 H292.5 V777.3 H295.9" fill="none" stroke="#000" stroke-width="1.3"/>
<text x="0" y="0" font-size="14.7" text-anchor="end" transform="translate(287.30,768.40) scale(1,1.06)">cN</text>
<path d="M295.9,781.75 H292.5 V825 H295.9" fill="none" stroke="#000" stroke-width="1.3"/>
<text x="0" y="0" font-size="14.7" text-anchor="end" transform="translate(287.30,807.20) scale(1,1.06)">cStage</text>
<path d="M295.9,829.75 H292.5 V857.2 H295.9" fill="none" stroke="#000" stroke-width="1.3"/>
<text x="0" y="0" font-size="14.7" text-anchor="end" transform="translate(287.30,846.25) scale(1,1.06)">Primary tumorSUVmax</text>
<path d="M295.9,862 H292.5 V889.3 H295.9" fill="none" stroke="#000" stroke-width="1.3"/>
<text x="0" y="0" font-size="14.7" text-anchor="end" transform="translate(287.30,877.00) scale(1,1.06)">Tumor size</text>
<path d="M295.9,895 H292.5 V920.5 H295.9" fill="none" stroke="#000" stroke-width="1.3"/>
<text x="0" y="0" font-size="14.7" text-anchor="end" transform="translate(287.30,912.00) scale(1,1.06)">Intraoperative blood loss</text>
<path d="M295.9,925.75 H292.5 V952.75 H295.9" fill="none" stroke="#000" stroke-width="1.3"/>
<text x="0" y="0" font-size="14.7" text-anchor="end" transform="translate(287.30,942.50) scale(1,1.06)">Total operation time</text>
<path d="M295.9,957.5 H292.5 V985.7 H295.9" fill="none" stroke="#000" stroke-width="1.3"/>
<text x="0" y="0" font-size="14.7" text-anchor="end" transform="translate(287.30,975.80) scale(1,1.06)">Grade</text>
<path d="M295.9,990.2 H292.5 V1016.4 H295.9" fill="none" stroke="#000" stroke-width="1.3"/>
<text x="0" y="0" font-size="14.7" text-anchor="end" transform="translate(287.30,1007.75) scale(1,1.06)">Dissected LN</text>
<path d="M295.9,1021.7 H292.5 V1082.3 H295.9" fill="none" stroke="#000" stroke-width="1.3"/>
<text x="0" y="0" font-size="14.7" text-anchor="end" transform="translate(287.30,1061.00) scale(1,1.06)">pT</text>
<path d="M295.9,1086.5 H292.5 V1112.75 H295.9" fill="none" stroke="#000" stroke-width="1.3"/>
<text x="0" y="0" font-size="14.7" text-anchor="end" transform="translate(287.30,1107.20) scale(1,1.06)">pN</text>
<path d="M295.9,1117.35 H292.5 V1177 H295.9" fill="none" stroke="#000" stroke-width="1.3"/>
<text x="0" y="0" font-size="14.7" text-anchor="end" transform="translate(287.30,1152.50) scale(1,1.06)">pStage</text>
<path d="M295.9,1182.6 H292.5 V1207.7 H295.9" fill="none" stroke="#000" stroke-width="1.3"/>
<text x="0" y="0" font-size="14.7" text-anchor="end" transform="translate(287.30,1199.80) scale(1,1.06)">Residual tumor classification</text>
<path d="M295.9,1213.6 H292.5 V1240.9 H295.9" fill="none" stroke="#000" stroke-width="1.3"/>
<text x="0" y="0" font-size="14.7" text-anchor="end" transform="translate(287.30,1231.10) scale(1,1.06)">Adjuvant chemotherapy</text>
<line x1="541.00" y1="1243.90" x2="541.00" y2="1251.80" stroke="#262626" stroke-width="1.5"/>
<text x="0" y="0" font-size="16.9" text-anchor="middle" transform="translate(546.60,1268.90) scale(1,1.05)">0.001</text>
<line x1="626.70" y1="1243.90" x2="626.70" y2="1251.80" stroke="#262626" stroke-width="1.5"/>
<text x="0" y="0" font-size="16.9" text-anchor="middle" transform="translate(625.90,1268.90) scale(1,1.05)">0.01</text>
<line x1="712.00" y1="1243.90" x2="712.00" y2="1251.80" stroke="#262626" stroke-width="1.5"/>
<text x="0" y="0" font-size="16.9" text-anchor="middle" transform="translate(711.20,1268.90) scale(1,1.05)">0.1</text>
<line x1="798.10" y1="1243.90" x2="798.10" y2="1251.80" stroke="#262626" stroke-width="1.5"/>
<text x="0" y="0" font-size="16.9" text-anchor="middle" transform="translate(798.80,1268.90) scale(1,1.05)">1</text>
<line x1="882.80" y1="1243.90" x2="882.80" y2="1251.80" stroke="#262626" stroke-width="1.5"/>
<text x="0" y="0" font-size="16.9" text-anchor="middle" transform="translate(885.30,1268.90) scale(1,1.05)">10</text>
<line x1="968.00" y1="1243.90" x2="968.00" y2="1251.80" stroke="#262626" stroke-width="1.5"/>
<text x="0" y="0" font-size="16.9" text-anchor="middle" transform="translate(969.30,1268.90) scale(1,1.05)">100</text>
<line x1="1054.50" y1="1243.90" x2="1054.50" y2="1251.80" stroke="#262626" stroke-width="1.5"/>
<text x="0" y="0" font-size="16.9" text-anchor="middle" transform="translate(1050.20,1268.90) scale(1,1.05)">1000</text>
<text x="799.00" y="1292.40" font-size="19.9" text-anchor="middle">Hazard ratio</text>
<text x="645.80" y="461.70" font-size="19.95" text-anchor="middle">Forest Plot</text>
<text x="0" y="0" font-size="19.9" text-anchor="middle" transform="translate(112,856.5) rotate(-90)">Subgroup</text>
<text x="0" y="0" font-size="20" text-anchor="middle" transform="translate(1182.7,861) rotate(90)">Hazard ratio (95% CI)</text>
</svg></body></html>
